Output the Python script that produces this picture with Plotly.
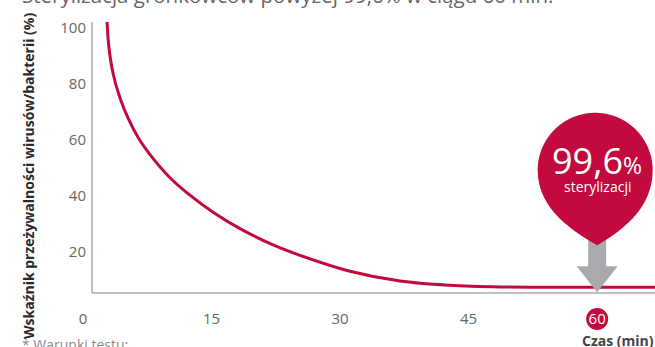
import numpy as np
import plotly.graph_objects as go

# Survival curve of viruses/bacteria over time
time_min = [2.8, 3.03, 3.54, 4.32, 5.29, 6.45, 8.02, 9.95, 12.29, 15.4, 18.32, 22.05,
            25.32, 31.16, 37.0, 42.8, 48.7, 54.5, 60.0, 66.75]
survival_pct = [102.5, 92.8, 83.2, 74.9, 67.5, 60.7, 53.9, 47.1, 40.7, 33.7, 28.3, 22.7,
                18.8, 13.1, 9.6, 8.1, 7.5, 7.4, 7.4, 7.4]

x_ticks = [0, 15, 30, 45, 60]
y_ticks = [20, 40, 60, 80, 100]
highlight_time = 60
highlight_label = "99,6"
highlight_sub = "sterylizacji"

title_text = "Sterylizacja gronkowców powyżej 99,6% w ciągu 60 min."
y_title = "Wskaźnik przeżywalności wirusów/bakterii (%)"
x_title = "Czas (min)"
footnote = "* Warunki testu:"

RED = "#C20A3E"
GREY_ARROW = "#A9AAAD"
AXIS = "#ABABAB"
TICK = "#666666"
FONT = "Open Sans"

x_range = [0, 66.75]
y_range = [0, 102]
axis_origin = (1.05, 5.36)

hl_y = survival_pct[time_min.index(highlight_time)]

fig = go.Figure()
fig.add_trace(go.Scatter(
    x=time_min, y=survival_pct, mode="lines",
    line=dict(color=RED, width=3, shape="spline", smoothing=1.0),
    hoverinfo="skip", showlegend=False,
))

shapes = []
# axis lines
shapes.append(dict(type="line", xref="x", yref="y", x0=axis_origin[0], x1=axis_origin[0],
                   y0=axis_origin[1], y1=y_range[1], line=dict(color=AXIS, width=1.5)))
shapes.append(dict(type="line", xref="x", yref="y", x0=axis_origin[0], x1=x_range[1],
                   y0=axis_origin[1], y1=axis_origin[1], line=dict(color=AXIS, width=1.5)))

# grey arrow pointing at the curve
arrow = "M -9,52 L 9,52 L 9,21 L 20.5,21 L 0,-5 L -20.5,21 L -9,21 Z"
shapes.append(dict(type="path", xref="x", yref="y", xsizemode="pixel", ysizemode="pixel",
                   xanchor=highlight_time, yanchor=hl_y, path=arrow,
                   fillcolor=GREY_ARROW, line=dict(width=0), layer="above"))

# pin-shaped balloon
cx, cy, R = -2, 117, 57.5
ang = np.linspace(np.pi, 0, 60)
pts = [f"{cx + R*np.cos(a):.2f},{cy + R*np.sin(a):.2f}" for a in ang]
pin = "M " + " L ".join(pts)
pin += (f" C {cx+R:.2f},{cy-40:.2f} {22:.2f},{cy-62:.2f} 0,{cy-75:.2f}"
        f" C {-22:.2f},{cy-62:.2f} {cx-R:.2f},{cy-40:.2f} {cx-R:.2f},{cy:.2f} Z")
shapes.append(dict(type="path", xref="x", yref="y", xsizemode="pixel", ysizemode="pixel",
                   xanchor=highlight_time, yanchor=hl_y, path=pin,
                   fillcolor=RED, line=dict(width=0), layer="above"))

# red disc behind the "60" tick label
tick_y = -11 / 286
shapes.append(dict(type="circle", xref="x", yref="paper", xsizemode="pixel", ysizemode="pixel",
                   xanchor=highlight_time, yanchor=tick_y, x0=-11, x1=11, y0=-11, y1=11,
                   fillcolor=RED, line=dict(width=0), layer="below"))

x_ticktext = [f"<span style='color:white'>{t}</span>" if t == highlight_time else str(t)
              for t in x_ticks]

annotations = [
    dict(x=highlight_time, y=hl_y, xref="x", yref="y", yshift=127, xshift=0, showarrow=False,
         text=f"{highlight_label}<span style='font-size:23px'>%</span>",
         font=dict(family=FONT, size=36, color="white")),
    dict(x=highlight_time, y=hl_y, xref="x", yref="y", yshift=101, showarrow=False,
         text=highlight_sub, font=dict(family=FONT, size=14, color="white")),
    dict(x=(580 - 83) / 572, y=(308 - 340) / 286, xref="paper", yref="paper",
         xanchor="left", yanchor="middle", showarrow=False, text=f"<b>{x_title}</b>",
         font=dict(family=FONT, size=14, color="#444444")),
    dict(x=(20 - 83) / 572, y=(308 - 344) / 286, xref="paper", yref="paper",
         xanchor="left", yanchor="middle", showarrow=False, text=footnote,
         font=dict(family=FONT, size=14, color="#8A8A8A")),
    dict(x=(28 - 83) / 572, y=(308 - 176) / 286, xref="paper", yref="paper",
         xanchor="center", yanchor="middle", showarrow=False, textangle=-90,
         text=f"<b>{y_title}</b>", font=dict(family=FONT, size=14, color="#2A2A2A")),
    dict(x=(20 - 83) / 572, y=(308 + 5) / 286, xref="paper", yref="paper",
         xanchor="left", yanchor="middle", showarrow=False, text=title_text,
         font=dict(family=FONT, size=20.5, color="#666666")),
]

fig.update_layout(
    width=655, height=347,
    margin=dict(l=83, r=0, t=22, b=39),
    paper_bgcolor="white", plot_bgcolor="rgba(0,0,0,0)",
    shapes=shapes, annotations=annotations,
    xaxis=dict(range=x_range, tickvals=x_ticks, ticktext=x_ticktext, showgrid=False,
               zeroline=False, showline=False, ticks="",
               tickfont=dict(family=FONT, size=15, color=TICK)),
    yaxis=dict(range=y_range, tickvals=y_ticks, showgrid=False, zeroline=False, showline=False,
               ticks="", ticklabelstandoff=-4, tickfont=dict(family=FONT, size=15, color=TICK)),
    font=dict(family=FONT),
)

fig.write_html("out.html")
